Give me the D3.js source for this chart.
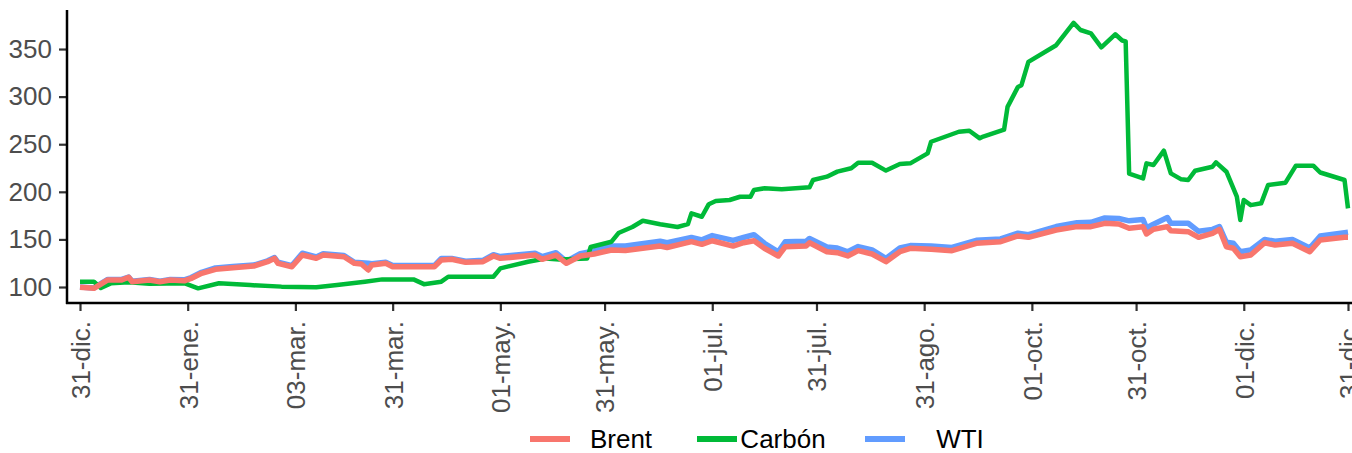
<!DOCTYPE html>
<html><head><meta charset="utf-8">
<script src="https://cdn.jsdelivr.net/npm/d3@7"></script>
<style>html,body{margin:0;padding:0;background:#fff;}svg{display:block;font-family:"Liberation Sans",Arial,sans-serif;}</style>
</head><body>
<script>
const brentDates = ["2020-12-31","2021-01-04","2021-01-08","2021-01-12","2021-01-14","2021-01-15","2021-01-20","2021-01-23","2021-01-26","2021-01-30","2021-02-01","2021-02-04","2021-02-08","2021-02-13","2021-02-19","2021-02-23","2021-02-25","2021-02-26","2021-03-02","2021-03-05","2021-03-09","2021-03-11","2021-03-17","2021-03-20","2021-03-22","2021-03-24","2021-03-25","2021-03-29","2021-03-31","2021-04-12","2021-04-14","2021-04-17","2021-04-21","2021-04-26","2021-04-29","2021-05-01","2021-05-11","2021-05-13","2021-05-17","2021-05-20","2021-05-24","2021-05-28","2021-06-02","2021-06-06","2021-06-16","2021-06-18","2021-06-25","2021-06-28","2021-07-01","2021-07-07","2021-07-10","2021-07-13","2021-07-16","2021-07-20","2021-07-22","2021-07-28","2021-07-29","2021-08-03","2021-08-06","2021-08-09","2021-08-12","2021-08-16","2021-08-20","2021-08-24","2021-08-27","2021-09-02","2021-09-08","2021-09-15","2021-09-22","2021-09-27","2021-09-30","2021-10-08","2021-10-14","2021-10-18","2021-10-22","2021-10-26","2021-10-29","2021-11-02","2021-11-03","2021-11-05","2021-11-09","2021-11-10","2021-11-15","2021-11-18","2021-11-22","2021-11-24","2021-11-26","2021-11-28","2021-11-30","2021-12-03","2021-12-07","2021-12-10","2021-12-15","2021-12-20","2021-12-23","2021-12-30","2021-12-31"];
const brentValues = [99.7,98.6,107.4,107.4,110.2,105.6,107.4,105.6,107.4,106.5,109,114.4,118.6,120.3,122,126.6,130.1,124.9,121.3,133.6,130.1,133.6,131.8,124.9,124.2,117.9,123.1,124.9,121.3,121.3,128.4,129.1,125.9,126.6,132.6,130.1,133.6,129.1,133.6,124.9,132.6,134.7,138.9,138.4,143,141.5,147.6,144.8,148.6,143,146.5,148.6,140.7,132.6,142.3,143,146.5,137.1,136,132.6,138.2,134.7,126.6,137.1,140.7,139.6,138.2,145.9,147.6,153.6,152.2,159.9,163.4,163.4,166.9,166.2,161.7,163.4,155.7,160.6,163.4,159.1,158.1,152.2,156.4,160.6,142.3,140.7,131.8,133.6,146.5,144.1,145.9,137.1,149.4,152.2,152.2];
const wtiValues = [100,99,108,108,110.5,106,108,106,108,107.5,110,115.5,120,121.5,123,127.5,131,126,122.5,135.5,131.5,135,133,126,125.5,125,124.5,126,122.5,122.5,130,130,127,128,134,132,135.5,132,136,127,135,138,143,143,148,146.5,152,149.5,154,149,152,155,146,137,147.5,148,151,142,141,137,142.5,139,130,141,143.5,143,141.5,149,150.5,156.5,155,163.5,167.5,168,172.5,172,169.5,171,162,166,173,167,167,158.5,160.5,163.5,147,146,137,139,150,148,150,141,153.5,157,157.5];
const carbonDates = ["2020-12-31","2021-01-04","2021-01-06","2021-01-09","2021-01-14","2021-01-20","2021-01-30","2021-02-03","2021-02-09","2021-02-18","2021-02-27","2021-03-09","2021-03-15","2021-03-23","2021-03-28","2021-04-06","2021-04-09","2021-04-14","2021-04-16","2021-04-29","2021-05-01","2021-05-09","2021-05-14","2021-05-18","2021-05-26","2021-05-27","2021-06-02","2021-06-04","2021-06-08","2021-06-11","2021-06-16","2021-06-21","2021-06-24","2021-06-25","2021-06-28","2021-06-30","2021-07-02","2021-07-06","2021-07-09","2021-07-12","2021-07-13","2021-07-16","2021-07-21","2021-07-29","2021-07-30","2021-08-03","2021-08-06","2021-08-10","2021-08-12","2021-08-16","2021-08-20","2021-08-24","2021-08-27","2021-09-01","2021-09-02","2021-09-10","2021-09-13","2021-09-16","2021-09-17","2021-09-23","2021-09-24","2021-09-27","2021-09-28","2021-09-30","2021-10-08","2021-10-13","2021-10-15","2021-10-18","2021-10-21","2021-10-25","2021-10-27","2021-10-28","2021-10-29","2021-11-02","2021-11-03","2021-11-05","2021-11-08","2021-11-10","2021-11-13","2021-11-15","2021-11-17","2021-11-22","2021-11-23","2021-11-26","2021-11-29","2021-11-30","2021-12-01","2021-12-03","2021-12-06","2021-12-08","2021-12-13","2021-12-16","2021-12-21","2021-12-23","2021-12-30","2021-12-31"];
const carbonValues = [105.6,105.6,99,104,105,103.5,104,98.6,104,102,100.4,99.7,102,105.6,108,108,103,105.6,110.8,110.8,119.6,126.6,130,129,130,142,147.6,156.7,163,169.6,166,163,166,177.4,173.8,187,190.3,191.4,194.8,194.8,201.9,203.7,202.6,204.7,212.4,215.9,221.2,224.7,230.6,230.6,222.3,229.2,229.9,240.4,252.6,263.1,264.2,256.2,258,265.4,289.2,310.2,312,336.5,354,377.5,370,366.5,351.8,365.5,359,358,219,214,229.9,228.2,243.2,219.4,213.1,212.4,222.2,226.4,231,221.1,194.9,170.4,191.4,186,187.9,207.1,209.6,227.5,227.5,220.3,212.4,182.6];
const tickDates = ["2020-12-31","2021-01-31","2021-03-03","2021-03-31","2021-05-01","2021-05-31","2021-07-01","2021-07-31","2021-08-31","2021-10-01","2021-10-31","2021-12-01","2021-12-31"];
const tickLabels = ["31-dic.","31-ene.","03-mar.","31-mar.","01-may.","31-may.","01-jul.","31-jul.","31-ago.","01-oct.","31-oct.","01-dic.","31-dic."];
const yTicks = [100,150,200,250,300,350];
const seriesNames = ["Brent","Carbón","WTI"];
const seriesColors = ["#F8766D","#00BA38","#619CFF"];

const W = 1352, H = 453;
const parse = d3.utcParse("%Y-%m-%d");
const svg = d3.select("body").append("svg").attr("width", W).attr("height", H);

const x = d3.scaleUtc().domain([parse("2020-12-31"), parse("2021-12-31")]).range([80, 1348]);
const y = d3.scaleLinear().domain([83.2, 391]).range([303, 10]);

const series = [
  {name: "WTI", color: seriesColors[2], w: 5.5, pts: brentDates.map((d,i)=>({d: parse(d), v: wtiValues[i]}))},
  {name: "Carbón", color: seriesColors[1], w: 4.5, pts: carbonDates.map((d,i)=>({d: parse(d), v: carbonValues[i]}))},
  {name: "Brent", color: seriesColors[0], w: 5.5, pts: brentDates.map((d,i)=>({d: parse(d), v: brentValues[i]}))}
];
const line = d3.line().x(p=>x(p.d)).y(p=>y(p.v));
svg.append("g").selectAll("path").data(series).join("path")
  .attr("d", s=>line(s.pts)).attr("fill","none")
  .attr("stroke", s=>s.color).attr("stroke-width", s=>s.w)
  .attr("stroke-linejoin","round").attr("stroke-linecap","butt");

const FONT = "'Liberation Sans',Arial,sans-serif";
// y axis
const ya = svg.append("g").attr("transform","translate(67,0)")
  .call(d3.axisLeft(y).tickValues(yTicks).tickSize(8).tickPadding(6));
ya.select(".domain").remove();
ya.selectAll(".tick line").attr("stroke","#333").attr("stroke-width",2.2);
ya.selectAll(".tick text").attr("fill","#4D4D4D").style("font-size","26px")
  .style("font-family",FONT).attr("x",-15);
svg.append("line").attr("x1",67).attr("x2",67).attr("y1",10).attr("y2",304)
  .attr("stroke","#000").attr("stroke-width",2.5);

// x axis
const xa = svg.append("g").attr("transform","translate(0,303)")
  .call(d3.axisBottom(x).tickValues(tickDates.map(parse)).tickSize(8)
    .tickFormat((d,i)=>tickLabels[i]));
xa.select(".domain").remove();
xa.selectAll(".tick line").attr("stroke","#333").attr("stroke-width",2.2);
xa.selectAll(".tick text").attr("fill","#4D4D4D").style("font-size","26px")
  .style("font-family",FONT)
  .attr("text-anchor","end").attr("transform","rotate(-90)")
  .attr("x",-18).attr("y",0).attr("dy","0.36em");
svg.append("line").attr("x1",66).attr("x2",1352).attr("y1",303).attr("y2",303)
  .attr("stroke","#000").attr("stroke-width",2.5);

// legend
const legKeyX = [530, 697, 865];
const legTextX = [621, 783, 960];
const lg = svg.append("g");
seriesNames.forEach((n,i)=>{
  lg.append("line").attr("x1",legKeyX[i]).attr("x2",legKeyX[i]+40)
    .attr("y1",439).attr("y2",439).attr("stroke",seriesColors[i]).attr("stroke-width",6);
  lg.append("text").attr("x",legTextX[i]).attr("y",448).attr("text-anchor","middle")
    .style("font-size","26px").attr("fill","#000").text(n);
});
</script>
</body></html>
